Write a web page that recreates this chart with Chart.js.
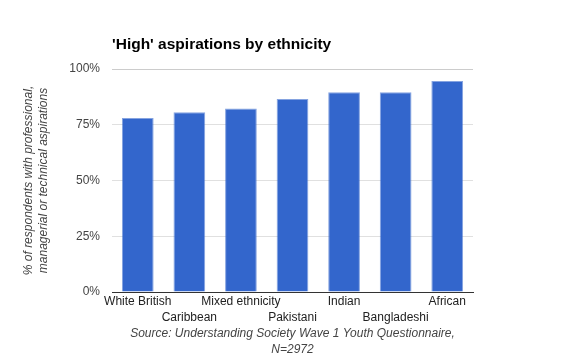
<!DOCTYPE html>
<html>
<head>
<meta charset="utf-8">
<script src="https://cdn.jsdelivr.net/npm/chart.js@4/dist/chart.umd.min.js"></script>
<style>
  html, body { margin: 0; padding: 0; background: #fff; }
  #wrap { width: 585px; height: 361px; }
</style>
</head>
<body>
<div id="wrap"><canvas id="myChart" width="585" height="361"></canvas></div>
<script>
// data
const groups = ['White British', 'Caribbean', 'Mixed ethnicity', 'Pakistani', 'Indian', 'Bangladeshi', 'African'];
const highAspirations = [78.0, 80.6, 82.3, 86.6, 89.6, 89.6, 94.6];
const yTicks = [0, 25, 50, 75, 100];

const chartTitle = "'High' aspirations by ethnicity";
const yTitle = ['% of respondents with professional,', 'managerial or technical aspirations'];
const xTitle = ['Source: Understanding Society Wave 1 Youth Questionnaire,', 'N=2972'];

const font = 'Arial, "Liberation Sans", sans-serif';

// title drawn at left edge of the plot, like the original
const titlePlugin = {
  id: 'leftTitle',
  afterDraw(chart) {
    const ctx = chart.ctx;
    ctx.save();
    ctx.font = 'bold 15.5px ' + font;
    ctx.fillStyle = '#000';
    ctx.textBaseline = 'alphabetic';
    ctx.fillText(chartTitle, chart.chartArea.left, 49);
    ctx.restore();
  }
};

const ctx = document.getElementById('myChart').getContext('2d');
new Chart(ctx, {
  type: 'bar',
  data: {
    labels: groups,
    datasets: [{
      data: highAspirations,
      backgroundColor: '#3366cc',
      borderColor: 'rgba(51, 102, 204, 0.6)',
      borderWidth: 1,
      categoryPercentage: 1,
      barPercentage: 0.615
    }]
  },
  options: {
    responsive: false,
    animation: false,
    layout: { padding: { top: 69, right: 112, bottom: 0, left: 0 } },
    plugins: {
      legend: { display: false },
      title: { display: false },
      tooltip: { enabled: false }
    },
    scales: {
      x: {
        grid: { display: false, drawTicks: false },
        border: { color: '#333333', width: 1 },
        afterFit(scale) { scale.height = 69; },
        ticks: {
          autoSkip: false,
          maxRotation: 0,
          padding: 2,
          color: '#222222',
          font: { family: font, size: 12, lineHeight: 1.333 },
          callback: function (value, index) {
            const name = groups[index];
            return index % 2 === 0 ? [name] : ['', name];
          }
        },
        title: {
          display: true,
          text: xTitle,
          color: '#444444',
          font: { family: font, size: 12, style: 'italic', lineHeight: 1.375 },
          padding: { top: 0, bottom: 2.7 }
        }
      },
      y: {
        min: 0,
        max: 100,
        afterFit(scale) { scale.width = 112; },
        afterBuildTicks(scale) { scale.ticks = yTicks.map(v => ({ value: v })); },
        grid: {
          drawTicks: false,
          color: (c) => {
            if (c.tick && c.tick.value === 0) return 'rgba(0,0,0,0)';
            if (c.tick && c.tick.value === 100) return '#cccccc';
            return '#e0e0e0';
          }
        },
        border: { display: false },
        ticks: {
          padding: 12,
          color: '#444444',
          font: { family: font, size: 12 },
          callback: (v) => v + '%'
        },
        title: {
          display: true,
          text: yTitle,
          color: '#444444',
          font: { family: font, size: 12, style: 'italic', lineHeight: 1.25 },
          padding: { top: 21, bottom: 0 }
        }
      }
    }
  },
  plugins: [titlePlugin]
});
</script>
</body>
</html>
